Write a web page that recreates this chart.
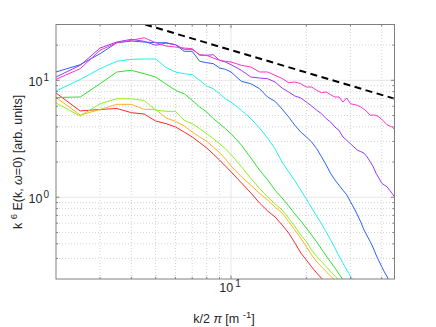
<!DOCTYPE html>
<html>
<head>
<meta charset="utf-8">
<script src="https://cdn.jsdelivr.net/npm/d3@7"></script>
<style>
  body { margin: 0; background: #fff; }
  text { font-family: 'Liberation Sans', Arial, sans-serif; fill: #262626; }
</style>
</head>
<body>
<div id="chart"></div>
<script>
// wavenumber grid k/2pi [1/m]
let kValues = [2, 2.5, 3, 3.5, 4, 4.5, 5, 5.5, 6, 6.5, 7, 7.5, 8, 8.5, 9, 9.5, 10,
  11, 12, 13, 14, 15, 16, 17, 18, 19, 20, 21, 22, 23, 24, 25, 26, 27, 28, 29, 30,
  31, 32, 33, 34, 35, 36, 37, 38, 39, 40, 41, 42, 43, 44, 45]

// k^6 E(k, w=0) for each curve
let redVals = [7.79, 5.47, 5.63, 5.74, 5.29, 5.15, 4.49, 4.26, 3.99, 3.61, 3.28, 2.93, 2.64, 2.34, 2.08, 1.85, 1.65,
  1.33, 1.09, 0.894, 0.764, 0.679, 0.58, 0.495, 0.407, 0.334, 0.291, 0.254, 0.225, 0.203, 0.178]
let orangeVals = [7.13, 5.05, 5.63, 6.23, 6.23, 5.65, 5.65, 4.76, 4.46, 4.07, 3.61, 3.28, 3.01, 2.69, 2.41, 2.13, 1.85,
  1.5, 1.27, 1.08, 0.948, 0.826, 0.734, 0.619, 0.525, 0.446, 0.378, 0.321, 0.281, 0.255, 0.231, 0.212, 0.196, 0.182]
let limeVals = [6.4, 4.95, 6.31, 6.96, 6.96, 6.72, 5.57, 5.43, 5.43, 4.55, 4.26, 3.86, 3.5, 3.17, 2.87, 2.6, 2.32,
  1.83, 1.45, 1.19, 1.01, 0.876, 0.779, 0.662, 0.561, 0.476, 0.417, 0.354, 0.311, 0.281, 0.255, 0.231, 0.212, 0.196, 0.182]
let greenVals = [7.13, 7.2, 9.35, 11.78, 12.18, 11.39, 10.67, 9.3, 8.21, 7.68, 6.75, 5.91, 5.36, 4.7, 4.26, 3.86, 3.5,
  2.8, 2.17, 1.71, 1.41, 1.15, 0.986, 0.843, 0.72, 0.627, 0.546, 0.476, 0.415, 0.361, 0.315, 0.28, 0.249, 0.221, 0.198, 0.178]
let cyanVals = [8.1, 10.16, 12.57, 14.54, 15.12, 15.21, 15.21, 12.87, 11.78, 11.39, 11.16, 10.0, 8.94, 8.48, 7.68, 6.96, 6.52,
  5.54, 4.7, 3.91, 3.21, 2.59, 2.0, 1.65, 1.38, 1.15, 0.967, 0.81, 0.692, 0.591, 0.505, 0.432, 0.369, 0.315, 0.274, 0.239, 0.212, 0.189]
let blueVals = [11.78, 13.6, 16.88, 20.96, 21.67, 21.25, 20.96, 20.96, 20.15, 17.7, 17.7, 14.54, 14.14, 13.87, 12.74, 12.42, 11.78,
  9.8, 9.35, 8.48, 7.2, 6.61, 5.68, 4.86, 4.12, 3.61, 3.28, 2.97, 2.6, 2.22, 1.89, 1.6, 1.41, 1.27, 1.15, 1.05, 0.917,
  0.81, 0.706, 0.615, 0.525, 0.467, 0.417, 0.369, 0.321, 0.285, 0.255, 0.23, 0.21, 0.189]
let purpleVals = [10.67, 13.44, 18.88, 21.25, 22.41, 21.54, 19.91, 20.83, 20.15, 18.41, 18.41, 16.55, 16.36, 16.55, 14.83, 14.34, 13.6,
  12.18, 10.67, 10.46, 10.32, 9.67, 8.59, 7.94, 7.34, 7.06, 6.52, 6.03, 5.54, 5.18, 4.7, 4.4, 3.99, 3.74, 3.28, 3.07, 2.87,
  2.69, 2.52, 2.46, 2.38, 2.21, 2.01, 1.82, 1.6, 1.46, 1.32, 1.27, 1.23, 1.15, 1.08, 1.01]
let magentaVals = [10.2, 12.57, 18.05, 20.96, 21.98, 23.13, 20.96, 19.64, 19.26, 18.88, 18.63, 16.36, 16.36, 15.51, 14.83, 14.54, 14.34,
  13.44, 12.99, 11.78, 11.78, 11.03, 10.36, 9.54, 9.67, 9.35, 8.76, 8.76, 8.21, 7.83, 7.94, 7.53, 7.2, 7.2, 6.52, 7.06, 6.31,
  6.21, 6.11, 5.91, 5.65, 5.36, 5.02, 5.05, 5.02, 4.86, 4.64, 4.4, 4.17, 4.07, 3.99, 3.81]

let seriesColors = ['#ff2a2a', '#ffb21e', '#8ef01e', '#2ee02e', '#22eef2', '#2a62f2', '#9a38f4', '#ff32c8']

// reference power law (dashed)
let refK = [4.54, 45]
let refY = [30, 6.96]

let xTicks = [10]
let yTicks = [1, 10]

let width = 436
let height = 327
let margin = { top: 24.5, left: 56, right: 41.5, bottom: 48 }

let svg = d3
  .select('#chart')
  .append('svg')
  .attr('width', width)
  .attr('height', height)

let x = d3
  .scaleLog()
  .domain([2, 45])
  .range([margin.left, width - margin.right])

let y = d3
  .scaleLog()
  .domain([0.2, 30])
  .range([height - margin.bottom, margin.top])

let x0 = x.range()[0]
let x1 = x.range()[1]
let y0 = y.range()[0]
let y1 = y.range()[1]

svg.append('rect')
  .attr('width', width)
  .attr('height', height)
  .attr('fill', '#fff')

// minor / major grid positions
let xMinor = [3, 4, 5, 6, 7, 8, 9, 20, 30, 40]
let yMinor = [0.3, 0.4, 0.5, 0.6, 0.7, 0.8, 0.9, 2, 3, 4, 5, 6, 7, 8, 9, 20]

let grid = svg.append('g')

grid.selectAll('.xminor')
  .data(xMinor)
  .enter()
  .append('line')
  .attr('x1', d => x(d)).attr('x2', d => x(d))
  .attr('y1', y0).attr('y2', y1)
  .attr('stroke', '#d4d4d4')
  .attr('stroke-dasharray', '1,2')

grid.selectAll('.yminor')
  .data(yMinor)
  .enter()
  .append('line')
  .attr('y1', d => y(d)).attr('y2', d => y(d))
  .attr('x1', x0).attr('x2', x1)
  .attr('stroke', '#d4d4d4')
  .attr('stroke-dasharray', '1,2')

grid.selectAll('.xmajor')
  .data(xTicks)
  .enter()
  .append('line')
  .attr('x1', d => x(d)).attr('x2', d => x(d))
  .attr('y1', y0).attr('y2', y1)
  .attr('stroke', '#e6e6e6')

grid.selectAll('.ymajor')
  .data(yTicks)
  .enter()
  .append('line')
  .attr('y1', d => y(d)).attr('y2', d => y(d))
  .attr('x1', x0).attr('x2', x1)
  .attr('stroke', '#e6e6e6')

// clip for the curves
svg.append('clipPath')
  .attr('id', 'plot-clip')
  .append('rect')
  .attr('x', x0)
  .attr('y', y1)
  .attr('width', x1 - x0)
  .attr('height', y0 - y1)

let plot = svg.append('g').attr('clip-path', 'url(#plot-clip)')

let line = d3
  .line()
  .x(d => x(d[0]))
  .y(d => y(d[1]))

let allSeries = [redVals, orangeVals, limeVals, greenVals, cyanVals, blueVals, purpleVals, magentaVals]

plot.selectAll('.curve')
  .data(allSeries)
  .enter()
  .append('path')
  .attr('class', 'curve')
  .attr('d', vals => line(vals.map((v, i) => [kValues[i], v])))
  .attr('fill', 'none')
  .attr('stroke', (d, i) => seriesColors[i])
  .attr('stroke-width', 1)
  .attr('stroke-linejoin', 'round')

plot.append('path')
  .attr('d', line(refK.map((k, i) => [k, refY[i]])))
  .attr('fill', 'none')
  .attr('stroke', '#000')
  .attr('stroke-width', 2)
  .attr('stroke-dasharray', '7,4.5')

// box + ticks (inward, all four sides)
let axisColor = '#808080'
let box = svg.append('g')

box.append('rect')
  .attr('x', x0)
  .attr('y', y1)
  .attr('width', x1 - x0)
  .attr('height', y0 - y1)
  .attr('fill', 'none')
  .attr('stroke', axisColor)
  .attr('stroke-width', 1)

let xTickData = xMinor.map(d => ({ v: d, len: 2 })).concat(xTicks.map(d => ({ v: d, len: 3.5 })))
let yTickData = yMinor.map(d => ({ v: d, len: 2 })).concat(yTicks.map(d => ({ v: d, len: 3.5 })))

xTickData.forEach(t => {
  box.append('line').attr('x1', x(t.v)).attr('x2', x(t.v)).attr('y1', y0).attr('y2', y0 - t.len).attr('stroke', axisColor)
  box.append('line').attr('x1', x(t.v)).attr('x2', x(t.v)).attr('y1', y1).attr('y2', y1 + t.len).attr('stroke', axisColor)
})
yTickData.forEach(t => {
  box.append('line').attr('y1', y(t.v)).attr('y2', y(t.v)).attr('x1', x0).attr('x2', x0 + t.len).attr('stroke', axisColor)
  box.append('line').attr('y1', y(t.v)).attr('y2', y(t.v)).attr('x1', x1).attr('x2', x1 - t.len).attr('stroke', axisColor)
})

// tick labels 10^n
xTicks.forEach(d => {
  let t = svg.append('text')
    .attr('x', x(d) - 1)
    .attr('y', y0 + 13)
    .attr('text-anchor', 'middle')
    .attr('font-size', 12.5)
  t.append('tspan').text('10')
  t.append('tspan').text(Math.round(Math.log10(d))).attr('dx', 2).attr('dy', -5).attr('font-size', 10)
})

yTicks.forEach(d => {
  let t = svg.append('text')
    .attr('x', x0 - 7)
    .attr('y', y(d) + 6)
    .attr('text-anchor', 'end')
    .attr('font-size', 12.5)
  t.append('tspan').text('10')
  t.append('tspan').text(Math.round(Math.log10(d))).attr('dx', 1).attr('dy', -5).attr('font-size', 10)
})

// axis labels
let xl = svg.append('text')
  .attr('x', 224)
  .attr('y', 323)
  .attr('text-anchor', 'middle')
  .attr('font-size', 12.5)
xl.append('tspan').text('k/2 ')
xl.append('tspan').text('π').attr('font-style', 'italic')
xl.append('tspan').text(' [m ')
xl.append('tspan').text('-1').attr('dy', -5).attr('font-size', 9.5)
xl.append('tspan').text(']').attr('dy', 5)

let yl = svg.append('text')
  .attr('transform', 'translate(22,162) rotate(-90)')
  .attr('text-anchor', 'middle')
  .attr('font-size', 12.5)
yl.append('tspan').text('k ')
yl.append('tspan').text('6').attr('dy', -5).attr('font-size', 9.5)
yl.append('tspan').text(' E(k, ').attr('dy', 5)
yl.append('tspan').text('ω').attr('font-style', 'italic')
yl.append('tspan').text('=0) [arb. units]')
</script>
</body>
</html>
